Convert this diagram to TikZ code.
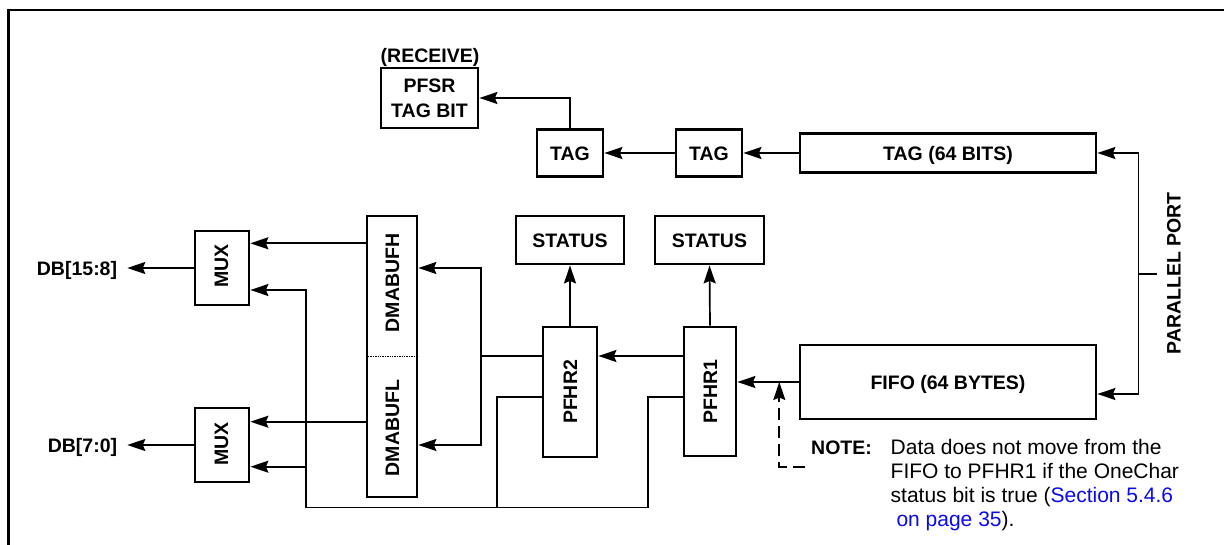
\documentclass[tikz,border=0pt]{standalone}
\usepackage{fontspec}
\setmainfont{Liberation Sans}
\usetikzlibrary{arrows.meta}
\definecolor{linkblue}{RGB}{10,10,235}
\begin{document}
\begin{tikzpicture}[x=1pt,y=-1pt,
  bf/.style={font=\bfseries\fontsize{19.5}{25}\selectfont},
  nt/.style={font=\fontsize{21}{24.2}\selectfont, inner sep=0pt, anchor=base west},
  capt/.style={text height=14pt, text depth=0pt},
  box/.style={draw, line width=2.8pt, inner sep=0pt, bf},
  lbl/.style={bf, capt, inner sep=0pt},
  con/.style={line width=1.7pt},
  arr/.style={con, -{Stealth[length=18pt,width=12pt,inset=2.5pt]}}]
\useasboundingbox (0,0) rectangle (1224,544);
% frame
\draw[line width=2.2pt] (8.5,550) -- (8.5,10) -- (1230,10);

% top row
\node[lbl] (recv) at (430,55) {(RECEIVE)};
\node[box, align=center, minimum width=97pt, minimum height=60pt] (pfsr) at (429.5,98) {PFSR\\TAG BIT};
\node[box, capt, minimum width=66pt, minimum height=47pt] (tag1) at (570,153) {TAG};
\node[box, capt, minimum width=66pt, minimum height=47pt] (tag2) at (709,153) {TAG};
\node[box, capt, minimum width=296pt, minimum height=39pt] (tag64) at (948,153) {TAG (64 BITS)};

% status
\node[box, capt, minimum width=108pt, minimum height=48pt] (st1) at (570,240) {STATUS};
\node[box, capt, minimum width=109pt, minimum height=48pt] (st2) at (709.5,240) {STATUS};

% holding registers
\node[box, minimum width=54pt, minimum height=130pt] (pfhr2) at (570,392) {};
\node[lbl, rotate=90] (pfhr2t) at (570,392) {PFHR2};
\node[box, minimum width=52pt, minimum height=129pt] (pfhr1) at (710,391.5) {};
\node[lbl, rotate=90] (pfhr1t) at (710,391.5) {PFHR1};

% FIFO
\node[box, capt, minimum width=296pt, minimum height=74pt] (fifo) at (948,382) {FIFO (64 BYTES)};

% DMA buffer
\node[box, minimum width=50pt, minimum height=281pt] (dmabox) at (392,356.5) {};
\node[lbl, rotate=90] (dmah) at (392,283) {DMABUFH};
\node[lbl, rotate=90] (dmal) at (392,428) {DMABUFL};
\coordinate (ydiv) at (0,356.3);
\draw[line width=1.2pt, dash pattern=on 1.3pt off 1.1pt] (dmabox.west |- ydiv) -- (dmabox.east |- ydiv);

% muxes
\node[box, minimum width=54pt, minimum height=74pt] (mux1) at (222,268) {};
\node[lbl, rotate=90] (mux1t) at (221,266) {MUX};
\node[box, minimum width=54pt, minimum height=74pt] (mux2) at (222,445) {};
\node[lbl, rotate=90] (mux2t) at (221,444) {MUX};
\node[lbl, anchor=east] (db1) at (117.3,268) {DB[15:8]};
\node[lbl, anchor=east] (db2) at (117.3,445) {DB[7:0]};

% parallel port
\node[lbl, rotate=90] (ppt) at (1173.5,273.3) {PARALLEL PORT};
\coordinate (pp) at (1157,274);
\coordinate (pj) at (1138.5,274);
\coordinate (yf) at (0,394);
\draw[con] (pp) -- (pj);
\draw[arr] (pj) |- (tag64.east);
\draw[arr] (pj) |- (fifo.east |- yf);

% tag chain
\draw[arr] (tag64.west) -- (tag2.east);
\draw[arr] (tag2.west) -- (tag1.east);
\draw[arr] (tag1.north) |- (pfsr.east);

% fifo to pfhr1
\draw[arr] (fifo.west) -- (fifo.west -| pfhr1.east);
% status
\draw[arr] (pfhr2.north) -- (st1.south);
\draw[arr] (pfhr1.north) -- (st2.south);

% pfhr1 -> pfhr2 -> dma
\coordinate (sp) at (481,356);
\coordinate (spu) at (481,268);
\coordinate (spd) at (481,445);
\draw[arr] (sp -| pfhr1.west) -- (sp -| pfhr2.east);
\draw[con] (sp -| pfhr2.west) -- (sp);
\draw[arr] (sp) -- (spu) -- (spu -| dmabox.east);
\draw[arr] (sp) -- (spd) -- (spd -| dmabox.east);

% dma -> mux
\coordinate (yh) at (0,243.3);
\coordinate (yl) at (0,421.7);
\draw[arr] (dmabox.west |- yh) -- (mux1.east |- yh);
\draw[arr] (dmabox.west |- yl) -- (mux2.east |- yl);

% bypass bus
\coordinate (b1) at (648,397);
\coordinate (b2) at (497,397);
\coordinate (bb1) at (648,507.5);
\coordinate (bb2) at (497,507.5);
\coordinate (bl) at (306,507.5);
\coordinate (bu) at (306,290);
\coordinate (bm) at (306,466.7);
\draw[con] (b1 -| pfhr1.west) -- (b1) -- (bb1) -- (bl);
\draw[con] (b2 -| pfhr2.west) -- (b2) -- (bb2);
\draw[arr] (bl) -- (bu) -- (bu -| mux1.east);
\draw[arr] (bm) -- (bm -| mux2.east);

% mux outputs
\draw[arr] (mux1.west) -- ([xshift=10pt]db1.east);
\draw[arr] (mux2.west) -- ([xshift=10pt]db2.east);

% note
\coordinate (nd) at (805,466.7);
\coordinate (ndc) at (779.3,466.7);
\draw[arr, dash pattern=on 12pt off 6pt] (nd) -- (ndc) -- (ndc |- fifo.west);
\node[bf, inner sep=0pt, anchor=base west] (notel) at (811,454) {NOTE:};
\node[nt] (n1) at (890.5,454) {Data does not move from the};
\node[nt] (n2) at (890.5,478.2) {FIFO to PFHR1 if the OneChar};
\node[nt] (n3) at (890.5,502.4) {status bit is true (\textcolor{linkblue}{Section 5.4.6}};
\node[nt] (n4) at (890.5,526.6) {\ \textcolor{linkblue}{on page 35}).};
\end{tikzpicture}
\end{document}
